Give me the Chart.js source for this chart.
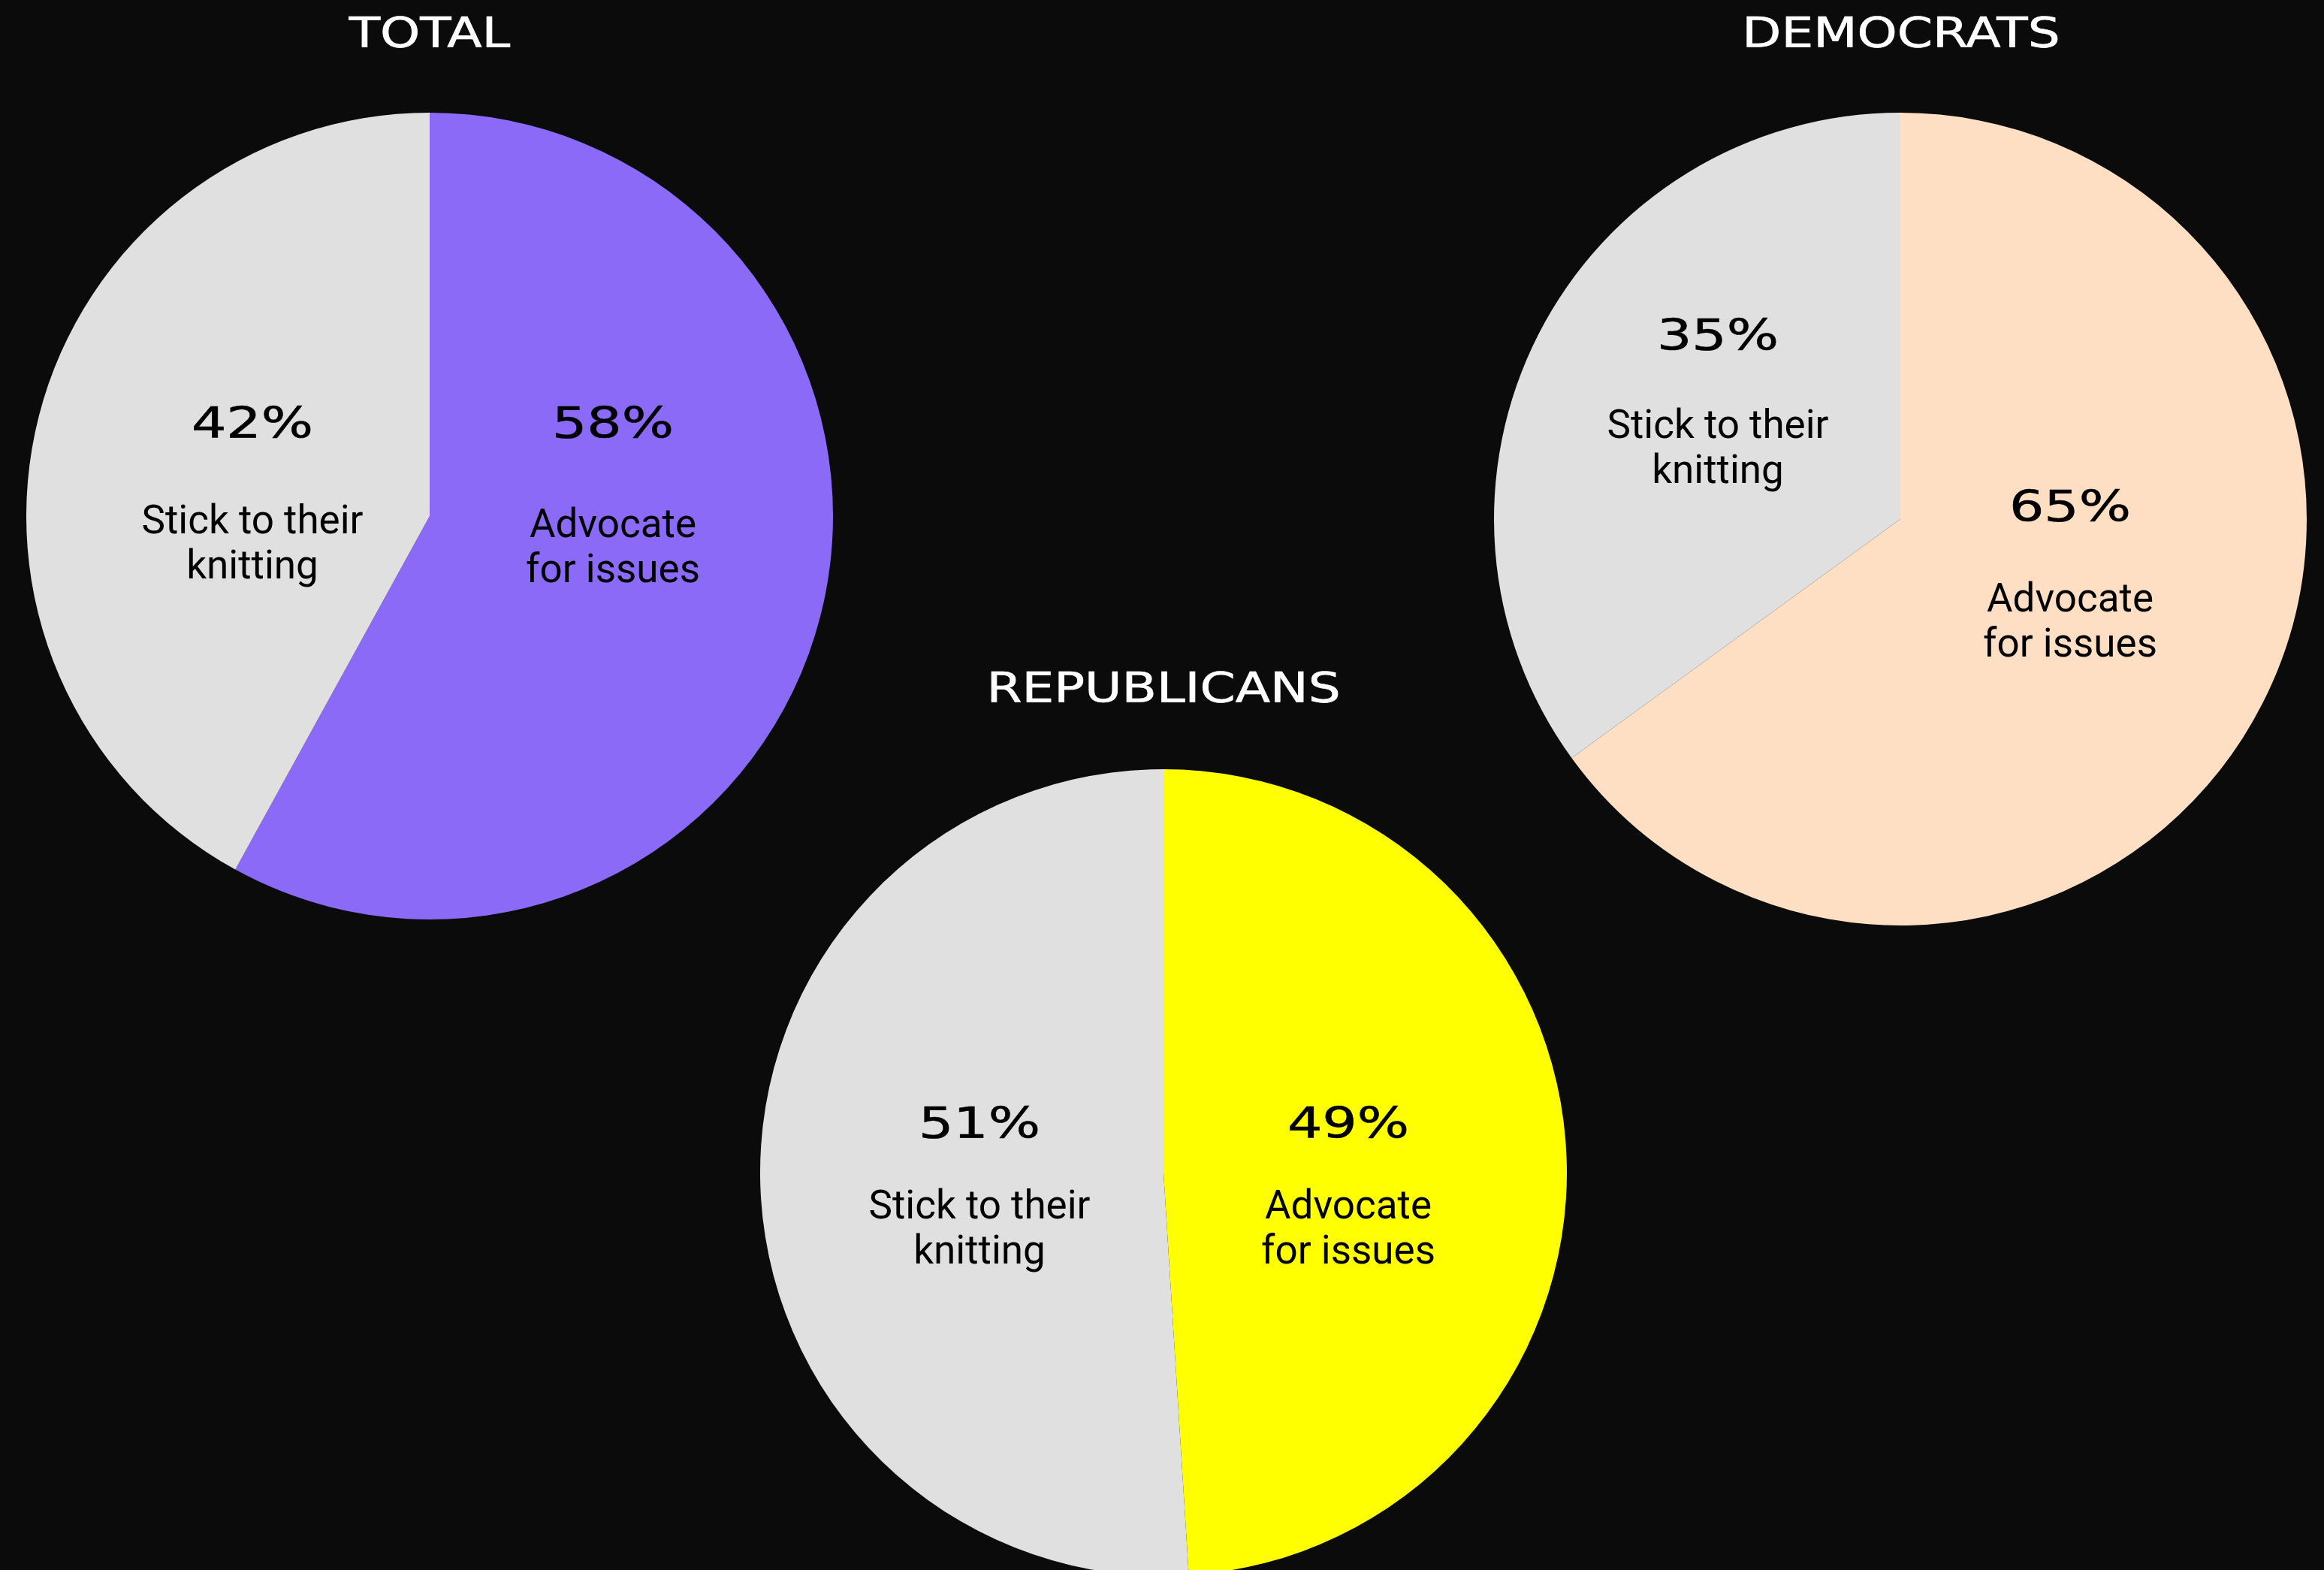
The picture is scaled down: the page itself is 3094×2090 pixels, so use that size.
<!DOCTYPE html>
<html>
<head>
<meta charset="utf-8">
<script src="https://cdn.jsdelivr.net/npm/chart.js@4.4.0/dist/chart.umd.min.js"></script>
<style>
  body { margin: 0; width: 3094px; height: 2090px; background: #0b0b0b; overflow: hidden; position: relative; }
  canvas.pie { position: absolute; }
  .title {
    position: absolute; color: #fff; font-family: "DejaVu Sans", sans-serif; font-size: 55px;
    line-height: 1; white-space: nowrap; transform: translateX(-50%) scaleX(1.23);
    -webkit-text-stroke: 0.7px #fff;
  }
</style>
</head>
<body>
<div class="title" style="left:572px; top:16px">TOTAL</div>
<div class="title" style="left:2531px; top:16px">DEMOCRATS</div>
<div class="title" style="left:1549px; top:888px">REPUBLICANS</div>

<canvas id="pieTotal" class="pie" width="1074" height="1074" style="left:35px; top:150px"></canvas>
<canvas id="pieDem" class="pie" width="1082" height="1082" style="left:1989px; top:150px"></canvas>
<canvas id="pieRep" class="pie" width="1074" height="1074" style="left:1012px; top:1024px"></canvas>

<script>
// Daten: Reihenfolge im Uhrzeigersinn ab 12 Uhr
const CATEGORIES = ["Advocate for issues", "Stick to their knitting"];
const LABEL_LINES = [["Advocate", "for issues"], ["Stick to their", "knitting"]];
const TOTAL = [58, 42];
const DEMOCRATS = [65, 35];
const REPUBLICANS = [49, 51];

const GREY = "#e0e0e0";

// Beschriftungen: Prozentwert (breit gezogen) + zweizeiliger Text darunter
const sliceLabels = {
  id: "sliceLabels",
  afterDatasetsDraw(chart, args, opts) {
    const { ctx } = chart;
    const arc = chart.getDatasetMeta(0).data[0];
    const cx = arc.x, cy = arc.y;
    const values = chart.data.datasets[0].data;
    opts.spots.forEach((s, i) => {
      const x = cx + s.dx, y = cy + s.dy;
      ctx.save();
      ctx.fillStyle = "#000";
      ctx.strokeStyle = "#000";
      ctx.lineWidth = 0.6;
      ctx.textAlign = "center";
      ctx.textBaseline = "alphabetic";
      ctx.translate(x, y);
      ctx.scale(1.28, 1);
      ctx.font = '57px "DejaVu Sans"';
      ctx.fillText(values[i] + "%", 0, 0);
      ctx.strokeText(values[i] + "%", 0, 0);
      ctx.restore();

      ctx.save();
      ctx.fillStyle = "#000";
      ctx.textAlign = "center";
      ctx.textBaseline = "alphabetic";
      ctx.font = "53px Roboto";
      LABEL_LINES[i].forEach((ln, k) => ctx.fillText(ln, x, y + s.gap + k * 60));
      ctx.restore();
    });
  },
};

function renderPie(canvasId, values, color, spots) {
  const el = document.getElementById(canvasId);
  return new Chart(el, {
    type: "pie",
    data: {
      labels: CATEGORIES,
      datasets: [{
        data: values,
        backgroundColor: [color, GREY],
        borderWidth: 0,
      }],
    },
    options: {
      responsive: false,
      animation: false,
      layout: { padding: 0 },
      plugins: {
        legend: { display: false },
        tooltip: { enabled: false },
        sliceLabels: { spots },
      },
    },
    plugins: [sliceLabels],
  });
}

renderPie("pieTotal", TOTAL, "#8a6af6", [
  { dx: 244, dy: -104, gap: 132 },
  { dx: -236, dy: -104, gap: 127 },
]);
renderPie("pieDem", DEMOCRATS, "#fedfc3", [
  { dx: 226, dy: 3, gap: 120 },
  { dx: -243, dy: -225, gap: 117 },
]);
renderPie("pieRep", REPUBLICANS, "#ffff00", [
  { dx: 246, dy: -46, gap: 107 },
  { dx: -245, dy: -46, gap: 107 },
]);
</script>
</body>
</html>
